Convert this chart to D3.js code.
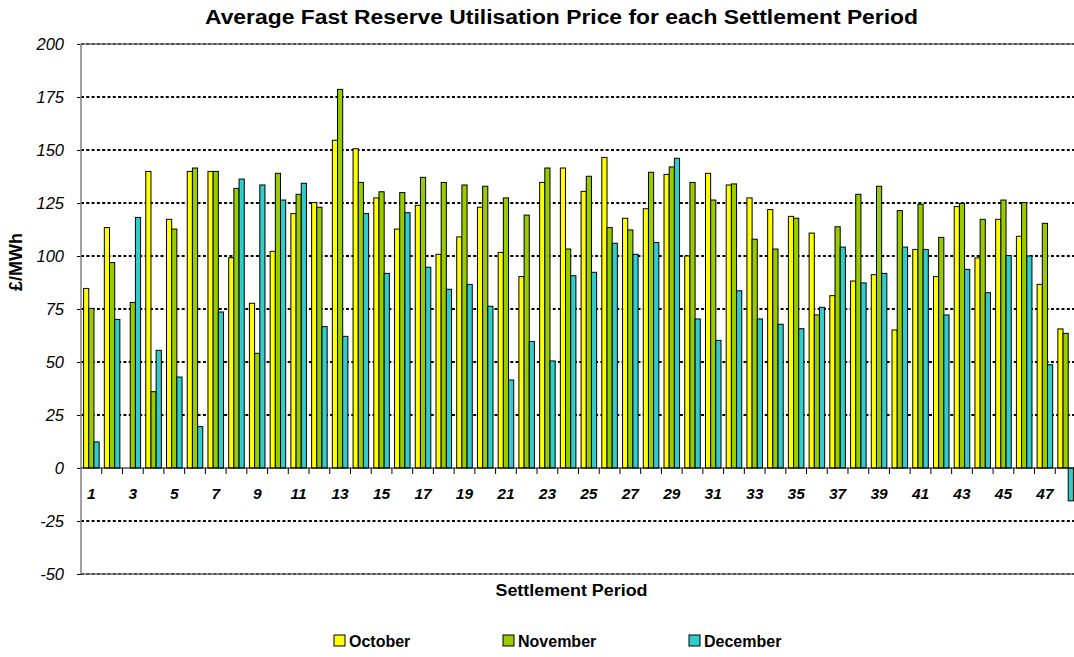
<!DOCTYPE html>
<html>
<head>
<meta charset="utf-8">
<script src="https://cdn.jsdelivr.net/npm/d3@7/dist/d3.min.js"></script>
<style>
  html, body { margin: 0; padding: 0; background: #fff; }
  svg { display: block; font-family: "Liberation Sans", Arial, sans-serif; }
</style>
</head>
<body>
<div id="chart"></div>
<script>
// settlement periods 1..48
const periods = [1, 2, 3, 4, 5, 6, 7, 8, 9, 10, 11, 12, 13, 14, 15, 16, 17, 18, 19, 20, 21, 22, 23, 24,
  25, 26, 27, 28, 29, 30, 31, 32, 33, 34, 35, 36, 37, 38, 39, 40, 41, 42, 43, 44, 45, 46, 47, 48];

const october = [84.7, 113.4, null, 139.9, 117.3, 139.9, 139.9, 99.2, 77.7, 102.2, 120.0, 125.2,
  154.6, 150.6, 127.4, 112.7, 123.9, 100.8, 109.0, 123.0, 101.7, 90.3, 134.7, 141.5,
  130.5, 146.5, 117.8, 122.3, 138.5, 100.0, 139.0, 133.5, 127.4, 121.9, 118.7, 110.8,
  81.3, 88.2, 91.2, 65.1, 103.1, 90.3, 123.3, 99.1, 117.3, 109.3, 86.6, 65.6];

const november = [75.3, 96.9, 78.1, 36.0, 112.7, 141.5, 139.9, 131.9, 54.1, 139.0, 129.1, 123.0,
  178.6, 134.7, 130.3, 129.9, 137.1, 134.7, 133.5, 132.9, 127.4, 119.3, 141.5, 103.3,
  137.6, 113.4, 112.3, 139.5, 142.0, 134.7, 126.4, 134.0, 107.9, 103.3, 117.8, 72.2,
  113.8, 129.1, 132.9, 121.4, 124.4, 108.8, 124.8, 117.3, 126.4, 125.2, 115.4, 63.5];

const december = [12.3, 70.1, 118.2, 55.5, 42.9, 19.5, 73.6, 136.3, 133.5, 126.4, 134.3, 66.7,
  62.1, 120.0, 91.8, 120.4, 94.7, 84.3, 86.6, 76.3, 41.5, 59.7, 50.5, 90.7,
  92.3, 106.0, 100.8, 106.4, 146.1, 70.3, 60.2, 83.6, 70.3, 67.8, 65.7, 75.8,
  104.2, 87.3, 91.8, 104.2, 103.1, 72.2, 93.7, 82.7, 100.2, 100.0, 48.7, -15.5];

const seriesNames = ["October", "November", "December"];
const yTicks = [-50, -25, 0, 25, 50, 75, 100, 125, 150, 175, 200];

const colors = { October: "#ffff00", November: "#99cc00", December: "#33cccc" };
const seriesValues = { October: october, November: november, December: december };

const width = 1074, height = 657;
const plot = { left: 81, right: 1076, top: 44, bottom: 574 };

const svg = d3.select("#chart").append("svg")
  .attr("width", width)
  .attr("height", height);

const x0 = d3.scaleBand().domain(periods).range([plot.left, plot.right]).padding(0);
const bw = x0.bandwidth();
const x1 = d3.scaleBand().domain(seriesNames).range([bw / 8, bw * 7 / 8]).padding(0);
const y = d3.scaleLinear().domain([-50, 200]).range([plot.bottom, plot.top]);

// gridlines (dotted)
const grid = svg.append("g");
grid.selectAll("line.border")
  .data([200, -50])
  .enter().append("line")
  .attr("x1", plot.left).attr("x2", width)
  .attr("y1", d => y(d)).attr("y2", d => y(d))
  .style("stroke", "#9a9a9a")
  .style("stroke-width", 2);
grid.selectAll("line.grid")
  .data(yTicks.filter(d => d !== 0))
  .enter().append("line")
  .attr("x1", plot.left).attr("x2", width)
  .attr("y1", d => y(d)).attr("y2", d => y(d))
  .style("stroke", "#000")
  .style("stroke-width", d => (d === 200 || d === -50) ? 1.2 : 1.8)
  .style("stroke-dasharray", "3,2.3");

// bars
const groups = svg.append("g").selectAll("g")
  .data(periods)
  .enter().append("g")
  .attr("transform", d => `translate(${x0(d)},0)`);

groups.selectAll("rect")
  .data((p, i) => seriesNames.map(s => ({ key: s, value: seriesValues[s][i] })))
  .enter().filter(d => d.value !== null)
  .append("rect")
  .attr("x", d => x1(d.key))
  .attr("width", x1.bandwidth())
  .attr("y", d => y(Math.max(0, d.value)))
  .attr("height", d => Math.abs(y(d.value) - y(0)))
  .style("fill", d => colors[d.key])
  .style("stroke", "#000")
  .style("stroke-width", 1);

// y axis
const yAxis = d3.axisLeft(y).tickValues(yTicks).tickSize(4).tickFormat(d => d);
const yg = svg.append("g")
  .attr("transform", `translate(${plot.left},0)`)
  .call(yAxis);
yg.select(".domain").remove();
yg.selectAll(".tick line").style("stroke", "#000");
yg.selectAll(".tick text")
  .attr("x", -17)
  .attr("dy", "0.36em")
  .style("font-size", "16.5px")
  .style("font-style", "italic")
  .style("fill", "#000");
svg.append("line")
  .attr("x1", plot.left).attr("x2", plot.left)
  .attr("y1", plot.top).attr("y2", plot.bottom)
  .style("stroke", "#808080")
  .style("stroke-width", 1.5);

// x axis along zero
const xAxis = d3.axisBottom(x0)
  .tickSize(0)
  .tickFormat(d => (d % 2 === 1 ? d : ""));
const xg = svg.append("g")
  .attr("transform", `translate(0,${y(0)})`)
  .call(xAxis);
xg.select(".domain").remove();
xg.selectAll(".tick text")
  .attr("y", 25)
  .attr("dy", "0.36em")
  .style("font-size", "15.5px")
  .style("font-weight", "bold")
  .style("font-style", "italic")
  .style("fill", "#000");
xg.append("line")
  .attr("x1", plot.left).attr("x2", width)
  .style("stroke", "#000").style("stroke-width", 1.2);
xg.selectAll("line.cat")
  .data(periods)
  .enter().append("line")
  .attr("class", "cat")
  .attr("x1", d => x0(d) + bw).attr("x2", d => x0(d) + bw)
  .attr("y1", 0).attr("y2", 6)
  .style("stroke", "#000");

// titles
svg.append("text")
  .attr("x", 561.5).attr("y", 24)
  .attr("text-anchor", "middle")
  .attr("textLength", 713)
  .attr("lengthAdjust", "spacingAndGlyphs")
  .style("font-size", "20px")
  .style("font-weight", "bold")
  .text("Average Fast Reserve Utilisation Price for each Settlement Period");

svg.append("text")
  .attr("x", 571.5).attr("y", 596)
  .attr("text-anchor", "middle")
  .attr("textLength", 152)
  .attr("lengthAdjust", "spacingAndGlyphs")
  .style("font-size", "16px")
  .style("font-weight", "bold")
  .text("Settlement Period");

svg.append("text")
  .attr("transform", "translate(22,262) rotate(-90)")
  .attr("text-anchor", "middle")
  .style("font-size", "18px")
  .style("font-weight", "bold")
  .text("£/MWh");

// legend
const legendX = { October: 334, November: 503, December: 689 };
const legend = svg.append("g").selectAll("g")
  .data(seriesNames)
  .enter().append("g")
  .attr("transform", d => `translate(${legendX[d]},635)`);
legend.append("rect")
  .attr("width", 11).attr("height", 11)
  .style("fill", d => colors[d])
  .style("stroke", "#000");
legend.append("text")
  .attr("x", 15).attr("y", 11.5)
  .style("font-size", "16px")
  .style("font-weight", "bold")
  .text(d => d);
</script>
</body>
</html>
